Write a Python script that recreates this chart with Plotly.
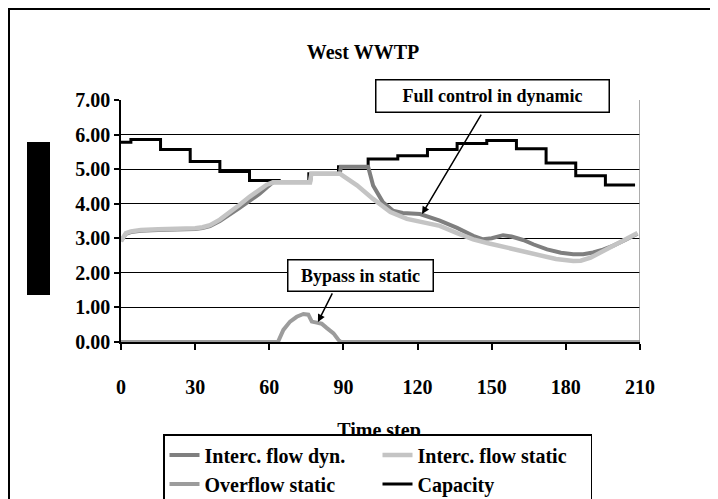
import plotly.graph_objects as go

# ---- data ----
time_dyn = [0, 1, 2, 4, 8, 15, 25, 30, 33, 36, 40, 44, 48, 52, 56, 59, 61.5, 76.5, 77, 88.5, 89,
            100, 102, 106, 110, 114, 121, 129, 136, 142.5, 146.5, 150, 154.6, 158, 162.7, 167,
            172.4, 178, 183, 187, 191, 195, 199, 204, 208, 209]
flow_dyn = [2.92, 3.05, 3.13, 3.18, 3.22, 3.24, 3.25, 3.27, 3.30, 3.35, 3.50, 3.68, 3.88, 4.08, 4.28, 4.47, 4.62, 4.62, 4.87, 4.87, 5.07,
            5.07, 4.53, 4.04, 3.80, 3.73, 3.70, 3.51, 3.30, 3.07, 2.97, 3.00, 3.09, 3.05, 2.95, 2.82,
            2.68, 2.58, 2.54, 2.54, 2.59, 2.67, 2.78, 2.95, 3.12, 3.13]

time_stat = [0, 1, 2, 4, 8, 15, 25, 30, 33, 36, 40, 44, 48, 52, 56, 59, 61.5, 76.5, 77, 88.6,
             90, 95.5, 102, 109, 115.7, 122, 129, 136, 142.5, 149, 156, 163, 169.6, 176, 183,
             186, 190, 196.6, 204.7, 209]
flow_stat = [2.92, 3.07, 3.15, 3.20, 3.24, 3.26, 3.27, 3.29, 3.32, 3.38, 3.54, 3.74, 3.97, 4.20, 4.40, 4.55, 4.62, 4.62, 4.87, 4.87,
             4.80, 4.53, 4.14, 3.76, 3.56, 3.48, 3.36, 3.15, 2.97, 2.85, 2.73, 2.60, 2.49, 2.40, 2.34,
             2.35, 2.44, 2.68, 2.97, 3.15]

time_over = [0, 63.5, 65.7, 68.4, 71.1, 73.8, 75.8, 77.2, 79.2, 81.2, 83.2, 86, 88, 89, 210]
overflow_stat = [0, 0, 0.35, 0.59, 0.73, 0.81, 0.79, 0.59, 0.56, 0.53, 0.41, 0.25, 0.06, 0, 0]

time_cap = [0, 4, 16, 28, 40, 52, 64, 76, 88, 100, 112, 124, 136, 148, 160, 172, 184, 196, 208]
capacity = [5.78, 5.86, 5.57, 5.22, 4.93, 4.67, 4.62, 4.87, 5.07, 5.29, 5.39, 5.57, 5.74, 5.83,
            5.59, 5.18, 4.81, 4.54, 4.54]

x_ticks = [0, 30, 60, 90, 120, 150, 180, 210]
y_ticks = [0, 1, 2, 3, 4, 5, 6, 7]
x_title = "Time step"

FONT = "Liberation Serif, Times New Roman, serif"

# page offset (browser body margin) -> figure pixels
OFF = 8
W, H = 710, 491
L, R, T = 121 - OFF, 78, 100 - OFF
PLOT_BOTTOM = 342 - OFF          # figure pixel of the x axis
pw = W - L - R
ph = H - T                       # paper area reaches the bottom of the figure
dom_bottom = (H - PLOT_BOTTOM) / ph

def px(xp):
    return (xp - OFF - L) / pw

def py(yp):
    return (H - (yp - OFF)) / ph

fig = go.Figure()
fig.add_trace(go.Scatter(x=time_cap, y=capacity, name="Capacity", mode="lines",
                         line=dict(color="#000000", width=3, shape="hv"), legendrank=4))
fig.add_trace(go.Scatter(x=time_dyn, y=flow_dyn, name="Interc. flow dyn.", mode="lines",
                         line=dict(color="#7f7f7f", width=4), legendrank=1))
fig.add_trace(go.Scatter(x=time_stat, y=flow_stat, name="Interc. flow static", mode="lines",
                         line=dict(color="#c4c4c4", width=4.5), legendrank=2))
fig.add_trace(go.Scatter(x=time_over, y=overflow_stat, name="Overflow static", mode="lines",
                         line=dict(color="#9c9c9c", width=4), legendrank=3))
# x-axis title on a hidden full-paper subplot, so the legend box overlaps it as in the reference
fig.add_trace(go.Scatter(x=[(379 - OFF - L)], y=[H - (432 - OFF)], xaxis="x2", yaxis="y2",
                         mode="text", text=[x_title], showlegend=False, hoverinfo="skip",
                         textfont=dict(family=FONT, size=20, color="black", weight="bold")))

fig.update_layout(
    width=W, height=H,
    margin=dict(l=L, r=R, t=T, b=0, autoexpand=False),
    paper_bgcolor="white", plot_bgcolor="rgba(0,0,0,0)",
    font=dict(family=FONT, size=20, color="black", weight="bold"),
    title=dict(text="West WWTP", x=0.5, xanchor="center", y=1 - (52 - OFF) / H, yanchor="middle",
               font=dict(family=FONT, size=20, color="black", weight="bold")),
    xaxis=dict(range=[0, 210], tickvals=x_ticks, showgrid=False, zeroline=False,
               showline=True, linecolor="black", linewidth=1.5,
               ticks="outside", ticklen=6, tickcolor="black", tickwidth=1.5,
               ticklabelstandoff=20,
               tickfont=dict(family=FONT, size=20, weight="bold")),
    yaxis=dict(range=[0, 7], domain=[dom_bottom, 1], tickvals=y_ticks, tickformat=".2f", showgrid=True,
               gridcolor="black", gridwidth=1, zeroline=False,
               showline=True, linecolor="black", linewidth=1.5,
               ticks="outside", ticklen=5, tickcolor="black", tickwidth=1.5,
               tickfont=dict(family=FONT, size=20, weight="bold")),
    xaxis2=dict(range=[0, pw], domain=[0, 1], anchor="y2", visible=False, fixedrange=True),
    yaxis2=dict(range=[0, ph], domain=[0, 1], anchor="x2", visible=False, fixedrange=True),
    legend=dict(orientation="h", x=px(163), y=py(434), xanchor="left", yanchor="top",
                bgcolor="white", bordercolor="black", borderwidth=1.5,
                entrywidth=168, entrywidthmode="pixels",
                font=dict(family=FONT, size=20, weight="bold")),
    showlegend=True,
)

# right border of plot area (grey)
fig.add_shape(type="line", xref="x", yref="y", x0=210, x1=210, y0=0, y1=7,
              line=dict(color="#909090", width=1.5))
# outer chart frame
fig.add_shape(type="rect", xref="paper", yref="paper", x0=px(9), x1=px(760), y0=py(560), y1=py(9),
              line=dict(color="black", width=2), fillcolor="rgba(0,0,0,0)", layer="below")
# y-axis title block (rendered as a solid black block in the reference)
fig.add_shape(type="rect", xref="paper", yref="paper", x0=px(27), x1=px(50), y0=py(295), y1=py(142),
              line=dict(width=0), fillcolor="black")

# annotation boxes
fig.add_annotation(text="Full control in dynamic", xref="paper", yref="paper",
                   x=px(492), y=py(96.5), xanchor="center", yanchor="middle", showarrow=False,
                   width=230, height=29, borderpad=1, bgcolor="white", bordercolor="black", borderwidth=1.5,
                   font=dict(family=FONT, size=18, weight="bold"))
fig.add_annotation(text="Bypass in static", xref="paper", yref="paper",
                   x=px(360), y=py(275), xanchor="center", yanchor="middle", showarrow=False,
                   width=142, height=28, borderpad=1, bgcolor="white", bordercolor="black", borderwidth=1.5,
                   font=dict(family=FONT, size=18, weight="bold"))
# arrows
fig.add_annotation(text="", x=121.8, y=3.70, ax=146.1, ay=6.62, xref="x", yref="y", axref="x", ayref="y",
                   showarrow=True, arrowhead=2, arrowsize=1, arrowwidth=1.5, arrowcolor="black")
fig.add_annotation(text="", x=79.7, y=0.58, ax=85.8, ay=1.45, xref="x", yref="y", axref="x", ayref="y",
                   showarrow=True, arrowhead=2, arrowsize=1, arrowwidth=1.5, arrowcolor="black")

fig.write_html("out.html")
